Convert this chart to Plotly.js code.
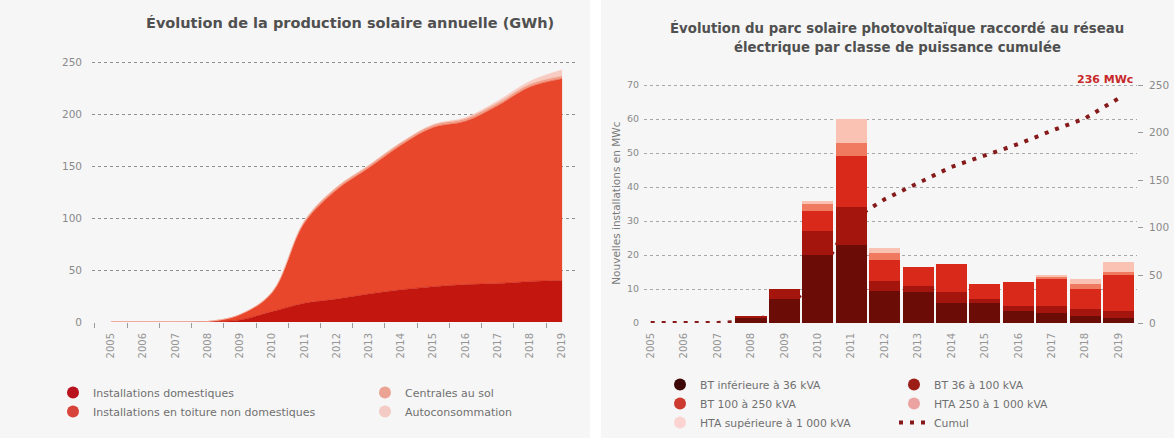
<!DOCTYPE html>
<html>
<head>
<meta charset="utf-8">
<script src="https://cdn.plot.ly/plotly-3.0.1.min.js"></script>
<style>
html,body{margin:0;padding:0;background:#f6f6f6;}
#chart{width:1174px;height:438px;}
</style>
</head>
<body>
<div id="chart"></div>
<script>
// ---------- Data ----------
const years = [2005,2006,2007,2008,2009,2010,2011,2012,2013,2014,2015,2016,2017,2018,2019];
const yearLabels = years.map(String);

// Left chart: annual solar production (GWh), stacked
const prodDomestique = [0,0,0,0.3,2,10,18,22,27,31,34,36,37,39,40];
const prodToiture    = [0,0,0,0.2,5,18,77,105,121,139,153,157,171,187,194];
const prodSol        = [0,0,0,0,0.3,1,2,2.5,2.5,2.5,2.5,2.5,2.5,2.5,2.5];
const prodAutoconso  = [0,0,0,0,0,0,0,0,0,0,0.5,1,2,3,6];
const prodTicks = [0,50,100,150,200,250];

// Right chart: new connected PV capacity by class (MWc)
const parcBT36      = [0,0,0,1.5,7,20,23,9.5,9,6,6,3.5,3,2,1.5];
const parcBT100     = [0,0,0,0.5,3,7,11,3,2,3,1,1.5,2,2,2];
const parcBT250     = [0,0,0,0,0,6,15,6,5.5,8.5,4.5,7,8,6,10.5];
const parcHTA1000   = [0,0,0,0,0,2,4,2,0,0,0,0,0.5,1.5,1];
const parcHTAsup    = [0,0,0,0,0,1,7,1.5,0,0,0,0,0.5,1.5,3];
const cumul         = [0,0,0,2,12,48,108,130,147,164,176,188,202,215,236];
const parcTicks  = [0,10,20,30,40,50,60,70];
const cumulTicks = [0,50,100,150,200,250];

// ---------- Styles ----------
const FONT = '"DejaVu Sans", Lato, sans-serif';
const prodColors = {dom:'#c3160f', toit:'#e8472b', sol:'#f2a08a', auto:'#f7cdc3'};
const prodLegendColors = {dom:'#b8121c', toit:'#d9443a', sol:'#eba393', auto:'#f3cbc4'};
const parcColors = ['#6c0c06','#a3150d','#d9291b','#f07a60','#f9c2b3'];
const parcLegendColors = ['#3e0808','#9c1c16','#cc3a30','#eaa3a0','#fbd3d1'];

const traces = [];

// Left stacked areas
function area(name, y, color){
  return {type:'scatter', mode:'lines', x:years, y:y, name:name, stackgroup:'prod',
    line:{width:0.5, color:color, shape:'spline', smoothing:1}, fillcolor:color,
    xaxis:'x', yaxis:'y', showlegend:false, hoverinfo:'x+y+name'};
}
traces.push(area('Installations domestiques', prodDomestique, prodColors.dom));
traces.push(area('Installations en toiture non domestiques', prodToiture, prodColors.toit));
traces.push(area('Centrales au sol', prodSol, prodColors.sol));
traces.push(area('Autoconsommation', prodAutoconso, prodColors.auto));

// Legend entries (circles)
function legendDot(name, color, legend, xa, ya, rank){
  return {type:'scatter', mode:'markers', x:[null], y:[null], name:name,
    marker:{symbol:'circle', size:12, color:color}, xaxis:xa, yaxis:ya,
    legend:legend, legendrank:rank, showlegend:true, hoverinfo:'skip'};
}
traces.push(legendDot('Installations domestiques', prodLegendColors.dom, 'legend', 'x', 'y', 1));
traces.push(legendDot('Installations en toiture non domestiques', prodLegendColors.toit, 'legend', 'x', 'y', 2));
traces.push(legendDot('Centrales au sol', prodLegendColors.sol, 'legend3', 'x', 'y', 1));
traces.push(legendDot('Autoconsommation', prodLegendColors.auto, 'legend3', 'x', 'y', 2));

// Right: cumulative line (on primary right axis y2, drawn beneath bars)
traces.push({type:'scatter', mode:'lines', x:years, y:cumul, name:'Cumul',
  xaxis:'x2', yaxis:'y2', line:{color:'#861a1a', width:4, dash:'4px,7px'},
  legend:'legend4', showlegend:true, legendrank:3});

// Right: stacked bars (on overlay axis y3, left side)
const parcSeries = [
  ['BT inférieure à 36 kVA', parcBT36],
  ['BT 36 à 100 kVA', parcBT100],
  ['BT 100 à 250 kVA', parcBT250],
  ['HTA 250 à 1 000 kVA', parcHTA1000],
  ['HTA supérieure à 1 000 kVA', parcHTAsup]
];
parcSeries.forEach(function(s, i){
  traces.push({type:'bar', x:years, y:s[1], name:s[0], xaxis:'x2', yaxis:'y3',
    marker:{color:parcColors[i], line:{width:0}}, showlegend:false});
});
traces.push(legendDot(parcSeries[0][0], parcLegendColors[0], 'legend2', 'x2', 'y3', 1));
traces.push(legendDot(parcSeries[2][0], parcLegendColors[2], 'legend2', 'x2', 'y3', 2));
traces.push(legendDot(parcSeries[4][0], parcLegendColors[4], 'legend2', 'x2', 'y3', 3));
traces.push(legendDot(parcSeries[1][0], parcLegendColors[1], 'legend4', 'x2', 'y3', 1));
traces.push(legendDot(parcSeries[3][0], parcLegendColors[3], 'legend4', 'x2', 'y3', 2));

const W = 1174, H = 438;
const px = v => v / W;
const py = v => (H - v) / H;

const tickFont = {family:FONT, size:10, color:'#959595'};
const yTickFont = {family:FONT, size:10.5, color:'#8a8a8a'};
function legendCfg(x, y, size){
  return {x:px(x), y:py(y), xanchor:'left', yanchor:'top', orientation:'v',
    font:{family:FONT, size:size, color:'#707070'}, bgcolor:'rgba(0,0,0,0)',
    borderwidth:0, itemwidth:30, tracegroupgap:0, traceorder:'normal'};
}

const layout = {
  width:W, height:H,
  margin:{l:0, r:0, t:0, b:0},
  paper_bgcolor:'#f6f6f6', plot_bgcolor:'rgba(0,0,0,0)',
  font:{family:FONT, color:'#777'},
  barmode:'stack', bargap:0.07,
  xaxis:{domain:[px(92), px(575)], range:[2004.41, 2019.40], anchor:'y',
    tickmode:'array', tickvals:years, ticktext:yearLabels, tickangle:-90,
    tickfont:tickFont, showgrid:false, zeroline:false, ticks:'', ticklabelstandoff:8,
    minor:{ticks:'outside', tick0:2004.5, dtick:1, ticklen:5, tickcolor:'#9a9a9a'}},
  yaxis:{domain:[py(322), py(322 - 255*1.04)], range:[0, 255], anchor:'x',
    tickmode:'array', tickvals:prodTicks, tickfont:yTickFont,
    showgrid:true, gridcolor:'#8f8f8f', griddash:'dot', gridwidth:1, zeroline:false,
    ticklabelstandoff:9},
  xaxis2:{domain:[px(644), px(1137)], range:[2004.8, 2019.55], anchor:'y2',
    tickmode:'array', tickvals:years, ticktext:yearLabels, tickangle:-90,
    tickfont:tickFont, showgrid:false, zeroline:false, ticks:'', ticklabelstandoff:7},
  yaxis2:{domain:[py(323), py(323 - 70.5*3.4)], range:[0, 250*70.5/70], anchor:'x2', side:'right',
    tickmode:'array', tickvals:cumulTicks, tickfont:yTickFont,
    showgrid:false, zeroline:false, ticks:'outside', ticklen:5, tickcolor:'#9a9a9a',
    ticklabelstandoff:4},
  yaxis3:{overlaying:'y2', side:'left', range:[0, 70.5], anchor:'x2',
    tickmode:'array', tickvals:parcTicks, tickfont:{family:FONT, size:9.5, color:'#8a8a8a'},
    showgrid:true, gridcolor:'#a8a8a8', griddash:'dot', gridwidth:1, zeroline:false,
    ticklabelstandoff:4,
    title:{text:'Nouvelles installations en MWc', font:{family:FONT, size:10.5, color:'#7a7a7a'}, standoff:4}},
  legend:legendCfg(53, 378, 11),
  legend3:legendCfg(365, 378, 11),
  legend2:legendCfg(660, 370, 10.8),
  legend4:legendCfg(894, 370, 10.8),
  shapes:[
    {type:'rect', xref:'paper', yref:'paper', x0:px(590), x1:px(601), y0:0, y1:1,
      fillcolor:'#ffffff', line:{width:0}, layer:'below'}
  ],
  annotations:[
    {xref:'paper', yref:'paper', x:px(350), y:py(23), xanchor:'center', yanchor:'middle',
      text:'<b>Évolution de la production solaire annuelle (GWh)</b>', showarrow:false,
      font:{family:FONT, size:14.5, color:'#505050'}},
    {xref:'paper', yref:'paper', x:px(897), y:py(28), xanchor:'center', yanchor:'middle',
      text:'<b>Évolution du parc solaire photovoltaïque raccordé au réseau</b>',
      showarrow:false, font:{family:FONT, size:13.3, color:'#505050'}},
    {xref:'paper', yref:'paper', x:px(897), y:py(47), xanchor:'center', yanchor:'middle',
      text:'<b>électrique par classe de puissance cumulée</b>',
      showarrow:false, font:{family:FONT, size:13.3, color:'#505050'}},
    {xref:'paper', yref:'paper', x:px(1135), y:py(79), xanchor:'right', yanchor:'middle',
      text:'<b>236 MWc</b>', showarrow:false, font:{family:FONT, size:11, color:'#c8282a'}}
  ]
};

Plotly.newPlot('chart', traces, layout, {displayModeBar:false, staticPlot:true});
</script>
</body>
</html>
